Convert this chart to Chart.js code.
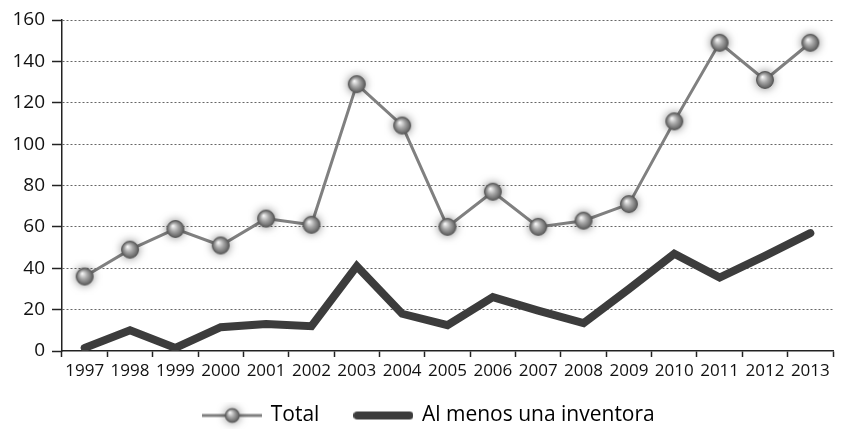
<!DOCTYPE html>
<html><head><meta charset="utf-8">
<script src="https://cdn.jsdelivr.net/npm/chart.js@4"></script>
<style>html,body{margin:0;padding:0;background:#fff}#wrap{width:844px;height:429px}</style>
</head><body><div id="wrap"><canvas id="c" width="844" height="429"></canvas></div>
<script>
const years = ['1997','1998','1999','2000','2001','2002','2003','2004','2005','2006','2007','2008','2009','2010','2011','2012','2013'];
const totalValues = [36, 49, 59, 51, 64, 61, 129, 109, 60, 77, 60, 63, 71, 111, 149, 131, 149];
const inventoraValues = [1.5, 10, 1.5, 11.5, 13, 12, 41, 18, 12.5, 26, 19.5, 13.5, 30, 47, 35.5, 46, 57];
const yTicks = [0, 20, 40, 60, 80, 100, 120, 140, 160];
const seriesNames = ['Total', 'Al menos una inventora'];

function sphere(ctx, cx, cy, r) {
  ctx.save();
  ctx.shadowColor = 'rgba(0,0,0,0.55)';
  ctx.shadowBlur = 10;
  ctx.beginPath(); ctx.arc(cx, cy, r, 0, Math.PI * 2);
  ctx.fillStyle = '#777'; ctx.fill();
  ctx.restore();
  const g = ctx.createRadialGradient(cx - 2.5, cy - 3, 0.5, cx, cy, r);
  g.addColorStop(0, '#f4f4f4');
  g.addColorStop(0.45, '#a8a8a8');
  g.addColorStop(1, '#5a5a5a');
  ctx.beginPath(); ctx.arc(cx, cy, r, 0, Math.PI * 2);
  ctx.fillStyle = g; ctx.fill();
  ctx.lineWidth = 0.8; ctx.strokeStyle = '#555'; ctx.stroke();
}
function makeMarker() {
  const c = document.createElement('canvas'); c.width = 36; c.height = 36;
  sphere(c.getContext('2d'), 18, 18, 8.5);
  return c;
}
function makeLegendTotal() {
  const c = document.createElement('canvas'); c.width = 60; c.height = 28;
  const x = c.getContext('2d');
  x.strokeStyle = '#808080'; x.lineWidth = 3;
  x.beginPath(); x.moveTo(0, 14); x.lineTo(60, 14); x.stroke();
  sphere(x, 30, 14, 7);
  return c;
}
function makeLegendInv() {
  const c = document.createElement('canvas'); c.width = 60; c.height = 14;
  const x = c.getContext('2d');
  x.strokeStyle = '#3c3c3c'; x.lineWidth = 8; x.lineCap = 'round';
  x.beginPath(); x.moveTo(4, 7); x.lineTo(56, 7); x.stroke();
  return c;
}
const marker = makeMarker();
const legTotal = makeLegendTotal();
const legInv = makeLegendInv();

const shiftLegend = {
  id: 'shiftLegend',
  afterLayout(chart) { if (chart.legend) { chart.legend.left += 8; chart.legend.right += 8; } }
};

new Chart(document.getElementById('c'), {
  type: 'line',
  plugins: [shiftLegend],
  data: {
    labels: years,
    datasets: [
      { label: seriesNames[0], data: totalValues, borderColor: '#808080', borderWidth: 3,
        pointStyle: marker, pointRadius: 8, tension: 0, order: 1 },
      { label: seriesNames[1], data: inventoraValues, borderColor: '#3c3c3c', borderWidth: 8,
        pointRadius: 0, borderJoinStyle: 'miter', borderCapStyle: 'round', tension: 0, order: 2 }
    ]
  },
  options: {
    responsive: false, animation: false,
    layout: { padding: { top: 20, right: 1, left: 0, bottom: -7 } },
    plugins: {
      tooltip: { enabled: false },
      legend: {
        position: 'bottom',
        labels: {
          usePointStyle: true, pointStyleWidth: 56, padding: 36,
          color: '#111', font: { family: 'Open Sans', size: 21 },
          generateLabels: () => [
            { text: seriesNames[0], pointStyle: legTotal, fillStyle: '#808080', strokeStyle: '#808080', lineWidth: 0, datasetIndex: 0 },
            { text: seriesNames[1], pointStyle: legInv, fillStyle: '#3c3c3c', strokeStyle: '#3c3c3c', lineWidth: 0, datasetIndex: 1 }
          ]
        }
      }
    },
    scales: {
      x: {
        offset: true,
        grid: { offset: true, drawOnChartArea: false, tickLength: 6, tickColor: '#222', tickWidth: 1.5 },
        border: { color: '#222', width: 1.5 },
        ticks: { color: '#111', font: { family: 'Open Sans', size: 17 }, maxRotation: 0, autoSkip: false, padding: 4 },
        afterFit: s => { s.height = 18; },
        afterUpdate: s => { s._computeLabelArea = () => undefined; }
      },
      y: {
        min: 0, max: 160,
        afterBuildTicks: s => { s.ticks = yTicks.map(v => ({ value: v })); },
        grid: { color: ctx => ctx.tick && ctx.tick.value === 0 ? 'rgba(0,0,0,0)' : '#666', lineWidth: 1,
                tickLength: 10, tickColor: '#222', tickWidth: 1.5, tickBorderDash: [] },
        border: { color: '#222', width: 1.5, dash: [2, 2] },
        ticks: { color: '#111', font: { family: 'Open Sans', size: 19 }, padding: 7 },
        afterFit: s => { s.width = 62; }
      }
    }
  }
});
</script>
</body></html>
